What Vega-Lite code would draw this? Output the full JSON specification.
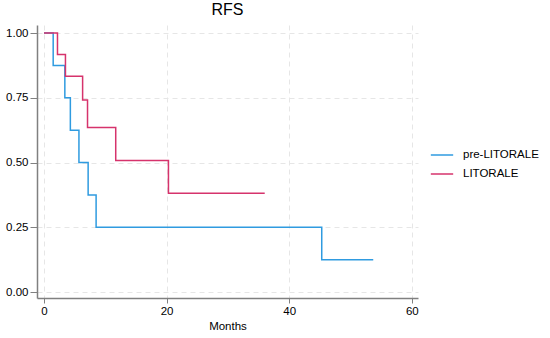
{
  "$schema": "https://vega.github.io/schema/vega-lite/v6.json",
  "autosize": "none",
  "width": 381,
  "height": 273,
  "padding": {"left": 37, "top": 25, "right": 132, "bottom": 40},
  "background": "white",
  "title": {"text": "RFS", "fontSize": 16, "font": "Liberation Sans", "fontWeight": "normal", "color": "#000000", "anchor": "middle", "offset": 7},
  "config": {"view": {"stroke": null}},
  "data": {"values": [
    {"group": "pre-LITORALE", "months": 0, "s": 1},
    {"group": "pre-LITORALE", "months": 1.5, "s": 0.875},
    {"group": "pre-LITORALE", "months": 3.4, "s": 0.75},
    {"group": "pre-LITORALE", "months": 4.3, "s": 0.625},
    {"group": "pre-LITORALE", "months": 5.7, "s": 0.5},
    {"group": "pre-LITORALE", "months": 7.2, "s": 0.375},
    {"group": "pre-LITORALE", "months": 8.5, "s": 0.25},
    {"group": "pre-LITORALE", "months": 45.3, "s": 0.125},
    {"group": "pre-LITORALE", "months": 53.7, "s": 0.125},
    {"group": "LITORALE", "months": 0, "s": 1},
    {"group": "LITORALE", "months": 2.2, "s": 0.917},
    {"group": "LITORALE", "months": 3.5, "s": 0.833},
    {"group": "LITORALE", "months": 6.3, "s": 0.741},
    {"group": "LITORALE", "months": 7.1, "s": 0.635},
    {"group": "LITORALE", "months": 11.7, "s": 0.508},
    {"group": "LITORALE", "months": 20.3, "s": 0.381},
    {"group": "LITORALE", "months": 36, "s": 0.381}
  ]},
  "mark": {"type": "line", "interpolate": "step-after", "strokeWidth": 1.5},
  "encoding": {
    "x": {"field": "months", "type": "quantitative", "title": "Months",
      "scale": {"domain": [-1.14, 61], "nice": false, "zero": false},
      "axis": {"values": [0, 20, 40, 60], "labelFont": "Liberation Sans", "labelFontSize": 11.5, "labelColor": "#000", "titleFont": "Liberation Sans", "titleFontSize": 11.5, "titleFontWeight": "normal", "titleColor": "#000", "titlePadding": 4,
        "domainColor": "#808080", "domainWidth": 1.5, "tickColor": "#808080", "tickSize": 5, "tickWidth": 1, "labelPadding": 2,
        "grid": true, "gridColor": "#e6e6e6", "gridDash": [5, 4], "gridWidth": 1}},
    "y": {"field": "s", "type": "quantitative", "title": null,
      "scale": {"domain": [-0.023, 1.031], "nice": false, "zero": false},
      "axis": {"values": [0, 0.25, 0.5, 0.75, 1], "format": ".2f", "labelFont": "Liberation Sans", "labelFontSize": 11.5, "labelColor": "#000",
        "domainColor": "#808080", "domainWidth": 1.5, "tickColor": "#808080", "tickSize": 7, "tickWidth": 1, "labelPadding": 2,
        "grid": true, "gridColor": "#e6e6e6", "gridDash": [5, 4], "gridWidth": 1}},
    "color": {"field": "group", "type": "nominal",
      "scale": {"domain": ["pre-LITORALE", "LITORALE"], "range": ["#2f9be0", "#d6336c"]},
      "legend": {"title": null, "orient": "none", "legendX": 393, "legendY": 118, "symbolType": "stroke", "symbolSize": 500, "symbolStrokeWidth": 1.5, "labelFont": "Liberation Sans", "labelFontSize": 11.5, "labelColor": "#000", "rowPadding": 1, "labelOffset": 9}}
  }
}
